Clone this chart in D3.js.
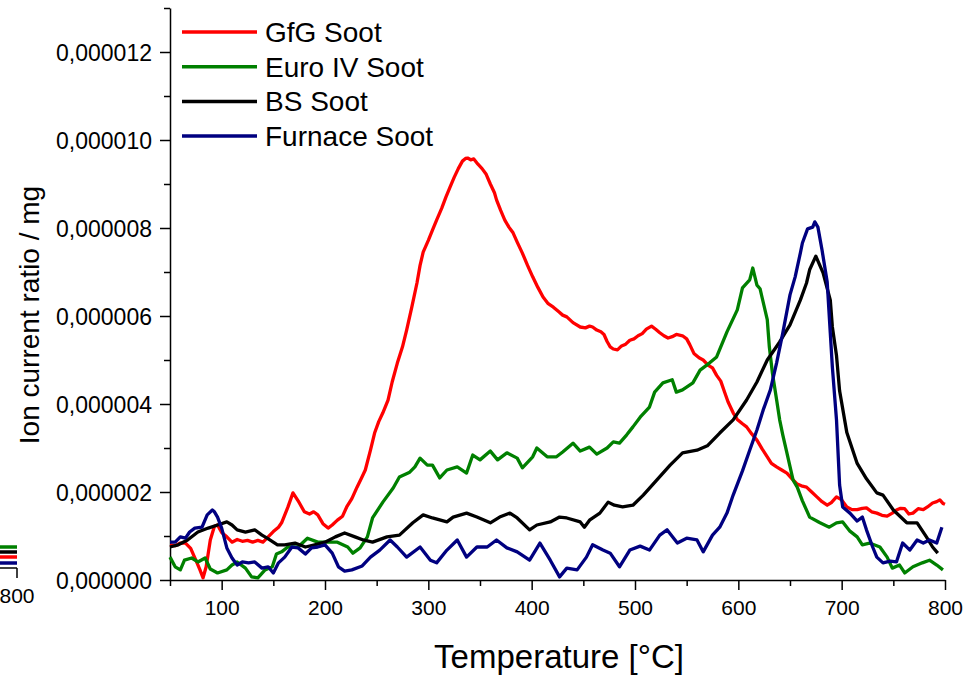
<!DOCTYPE html>
<html>
<head>
<meta charset="utf-8">
<script src="https://cdn.jsdelivr.net/npm/d3@7/dist/d3.min.js"></script>
<style>
  html, body { margin: 0; padding: 0; background: #fff; }
  svg { display: block; font-family: "Liberation Sans", Arial, sans-serif; }
</style>
</head>
<body>
<svg id="chart" width="968" height="675"></svg>
<script>
// ---- Data (values in units of 1e-6 ion current ratio / mg) ----
const seriesNames = ["GfG Soot", "Euro IV Soot", "BS Soot", "Furnace Soot"];
const seriesColors = ["#ff0000", "#008000", "#000000", "#000080"];

const gfgSoot = [[50,0.80],[55,0.78],[60,0.84],[65,0.84],[70,0.72],[75,0.45],[79,0.23],[82,0.05],[85,0.30],[89,0.91],[93,1.22],[96,1.25],[100,1.08],[105,0.98],[110,0.86],[115,0.92],[120,0.88],[125,0.90],[130,0.86],[135,0.90],[140,0.86],[145,0.98],[150,1.10],[155,1.20],[158,1.30],[164,1.65],[169,1.98],[174,1.80],[180,1.55],[185,1.50],[189,1.55],[193,1.48],[198,1.28],[203,1.18],[207,1.25],[212,1.36],[217,1.45],[221,1.66],[226,1.85],[231,2.11],[235,2.30],[239,2.50],[244,2.95],[248,3.34],[252,3.60],[256,3.80],[261,4.09],[265,4.50],[270,4.93],[275,5.30],[279,5.68],[284,6.20],[289,6.75],[292,7.15],[295,7.45],[300,7.72],[304,7.95],[308,8.18],[313,8.45],[317,8.70],[321,8.93],[325,9.15],[329,9.35],[333,9.52],[336,9.58],[338,9.59],[341,9.55],[344,9.57],[348,9.45],[352,9.35],[356,9.22],[360,9.00],[364,8.80],[366,8.64],[370,8.40],[374,8.18],[378,8.02],[382,7.89],[386,7.68],[391,7.43],[396,7.15],[401,6.89],[406,6.65],[411,6.43],[416,6.28],[421,6.20],[426,6.10],[430,6.02],[434,5.98],[440,5.85],[447,5.75],[452,5.73],[456,5.77],[459,5.75],[463,5.68],[467,5.64],[470,5.58],[473,5.42],[476,5.30],[479,5.25],[483,5.23],[487,5.32],[491,5.36],[495,5.45],[499,5.48],[503,5.55],[507,5.60],[511,5.70],[516,5.77],[520,5.70],[524,5.62],[528,5.55],[532,5.50],[536,5.53],[540,5.58],[546,5.55],[550,5.48],[553,5.35],[557,5.15],[562,5.05],[566,5.00],[571,4.88],[575,4.82],[579,4.65],[583,4.52],[587,4.25],[590,4.05],[595,3.80],[599,3.65],[604,3.55],[608,3.48],[613,3.32],[618,3.18],[623,2.98],[628,2.80],[632,2.65],[637,2.57],[642,2.50],[647,2.43],[652,2.30],[657,2.18],[661,2.14],[666,2.11],[671,2.00],[676,1.89],[681,1.78],[686,1.70],[690,1.76],[695,1.89],[700,1.82],[705,1.66],[710,1.60],[715,1.60],[720,1.63],[724,1.64],[729,1.55],[734,1.52],[739,1.47],[744,1.45],[749,1.52],[753,1.59],[757,1.63],[761,1.62],[765,1.50],[769,1.52],[774,1.62],[779,1.60],[783,1.66],[788,1.75],[792,1.78],[795,1.82],[798,1.74],[800,1.72]];

const euroIVSoot = [[50,0.52],[55,0.30],[60,0.23],[64,0.45],[71,0.50],[77,0.41],[84,0.50],[89,0.25],[96,0.16],[105,0.23],[110,0.34],[115,0.41],[123,0.27],[129,0.07],[135,0.05],[142,0.23],[149,0.30],[153,0.59],[158,0.64],[164,0.75],[174,0.75],[183,0.95],[193,0.86],[203,0.86],[212,0.86],[222,0.75],[227,0.61],[234,0.73],[241,0.98],[246,1.41],[256,1.77],[266,2.09],[272,2.34],[282,2.45],[287,2.57],[292,2.77],[299,2.61],[304,2.61],[311,2.32],[318,2.50],[328,2.57],[337,2.43],[343,2.84],[350,2.73],[360,2.93],[367,2.73],[376,2.89],[386,2.77],[391,2.55],[401,2.80],[405,3.00],[415,2.80],[424,2.80],[430,2.91],[440,3.11],[447,2.93],[456,3.02],[463,2.86],[473,3.00],[479,3.14],[485,3.11],[492,3.30],[498,3.48],[505,3.70],[514,3.93],[519,4.27],[527,4.48],[536,4.55],[540,4.27],[546,4.32],[556,4.48],[563,4.77],[572,4.93],[579,5.07],[589,5.64],[599,6.14],[604,6.64],[611,6.82],[614,7.09],[618,6.70],[621,6.62],[628,5.92],[630,5.30],[633,4.70],[637,4.10],[640,3.64],[643,3.30],[647,2.89],[653,2.27],[657,2.11],[662,1.80],[669,1.43],[679,1.30],[688,1.20],[695,1.30],[701,1.32],[708,1.11],[715,0.98],[720,0.80],[727,0.84],[737,0.75],[744,0.52],[749,0.27],[756,0.34],[761,0.16],[769,0.30],[778,0.39],[785,0.45],[792,0.34],[798,0.23]];

const bsSoot = [[50,0.75],[58,0.80],[67,0.91],[77,1.09],[87,1.18],[96,1.25],[105,1.32],[110,1.25],[115,1.14],[123,1.09],[132,1.14],[139,1.02],[144,0.95],[154,0.80],[161,0.80],[171,0.84],[181,0.75],[190,0.80],[200,0.86],[210,0.98],[219,1.07],[229,0.98],[237,0.91],[246,0.86],[260,0.98],[272,1.02],[285,1.30],[295,1.48],[304,1.41],[318,1.32],[324,1.43],[337,1.52],[347,1.43],[360,1.30],[369,1.43],[379,1.52],[386,1.41],[398,1.14],[405,1.25],[418,1.32],[427,1.43],[434,1.41],[447,1.32],[451,1.20],[456,1.36],[466,1.52],[474,1.77],[480,1.70],[488,1.66],[498,1.70],[508,1.93],[521,2.27],[534,2.61],[546,2.89],[560,2.95],[570,3.05],[582,3.34],[595,3.64],[608,4.09],[618,4.50],[628,5.00],[640,5.41],[650,5.80],[660,6.36],[666,6.75],[669,7.05],[675,7.36],[682,6.98],[689,6.36],[691,5.75],[695,5.10],[698,4.30],[705,3.35],[715,2.65],[724,2.30],[734,1.98],[740,1.93],[750,1.59],[763,1.30],[773,1.30],[782,0.98],[788,0.75],[793,0.61]];

const furnaceSoot = [[50,0.86],[55,0.86],[60,0.98],[65,0.95],[69,1.09],[74,1.18],[81,1.20],[86,1.48],[91,1.59],[93,1.55],[96,1.43],[100,1.18],[105,0.73],[110,0.50],[115,0.34],[120,0.41],[126,0.39],[132,0.41],[139,0.27],[145,0.30],[150,0.16],[155,0.39],[161,0.52],[168,0.75],[174,0.73],[181,0.59],[187,0.73],[193,0.75],[200,0.80],[207,0.61],[213,0.30],[219,0.20],[226,0.23],[236,0.32],[244,0.52],[253,0.68],[263,0.91],[270,0.75],[279,0.52],[292,0.75],[302,0.45],[308,0.39],[318,0.68],[328,0.91],[337,0.52],[347,0.75],[357,0.75],[366,0.91],[376,0.73],[386,0.64],[398,0.45],[408,0.84],[418,0.45],[427,0.07],[434,0.27],[444,0.23],[453,0.52],[459,0.80],[469,0.68],[476,0.61],[485,0.30],[495,0.68],[505,0.77],[514,0.68],[524,1.02],[531,1.14],[541,0.84],[550,0.95],[560,0.91],[566,0.64],[575,1.02],[582,1.20],[589,1.52],[595,1.93],[604,2.48],[611,2.95],[618,3.41],[624,3.86],[631,4.32],[637,4.93],[643,5.61],[650,6.48],[655,6.89],[660,7.43],[662,7.66],[667,7.98],[672,8.02],[674,8.14],[677,8.02],[681,7.50],[686,6.77],[689,5.61],[691,4.84],[695,3.64],[698,2.16],[701,1.66],[708,1.52],[715,1.34],[720,1.43],[724,1.14],[730,0.75],[734,0.52],[740,0.39],[747,0.43],[753,0.41],[759,0.84],[766,0.68],[773,0.91],[779,0.84],[785,0.91],[792,0.84],[797,1.20]];

const allSeries = [gfgSoot, euroIVSoot, bsSoot, furnaceSoot];

const xMajorTicks = [100, 200, 300, 400, 500, 600, 700, 800];
const xMinorTicks = [50, 150, 250, 350, 450, 550, 650, 750];
const yMajorTicks = [0, 2, 4, 6, 8, 10, 12];
const yMinorTicks = [1, 3, 5, 7, 9, 11, 13];
const yTickLabels = ["0,000000","0,000002","0,000004","0,000006","0,000008","0,000010","0,000012"];

// Fragment of a neighbouring chart, cut at the left edge (values at its right end)
const fragmentValues = [[1, 1.20], [2, 0.91], [0, 0.63], [3, 0.29]]; // [series index, value]
const fragmentTick = [800];

// ---- Drawing ----
const svg = d3.select("#chart");
const x = d3.scaleLinear().domain([50, 800]).range([170, 945]);
const y = d3.scaleLinear().domain([0, 13]).range([580, 8]);

const font = '"Liberation Sans", Arial, sans-serif';

// neighbouring chart fragment
const fx = d3.scaleLinear().domain([780, 800]).range([-20, 17]);
const fy = d3.scaleLinear().domain([0, 13]).range([568, 340]);
const fragLine = d3.line().x(d => fx(d[0])).y(d => fy(d[1]));
fragmentValues.forEach(([si, v]) => {
  svg.append("path")
    .attr("d", fragLine([[780, v], [800, v]]))
    .attr("fill", "none").attr("stroke", seriesColors[si]).attr("stroke-width", 3.5);
});
svg.append("line").attr("x1", fx(780)).attr("x2", fx(800)).attr("y1", fy(0)).attr("y2", fy(0))
  .attr("stroke", "#000").attr("stroke-width", 1.5);
fragmentTick.forEach(t => {
  svg.append("line").attr("x1", fx(t)).attr("x2", fx(t)).attr("y1", fy(0)).attr("y2", fy(0) + 10)
    .attr("stroke", "#000").attr("stroke-width", 1.5);
  svg.append("text").attr("x", fx(t)).attr("y", 603).attr("text-anchor", "middle")
    .attr("font-size", 21).attr("font-family", font).text(String(t));
});

// axes
const gx = svg.append("g").attr("transform", "translate(0,580)");
gx.call(d3.axisBottom(x).tickValues(xMajorTicks).tickSize(10).tickSizeOuter(0).tickFormat(d3.format("d")));
const gxm = svg.append("g").attr("transform", "translate(0,580)");
gxm.call(d3.axisBottom(x).tickValues(xMinorTicks).tickSize(6).tickSizeOuter(0).tickFormat(""));
gxm.select(".domain").remove();
gx.selectAll("text").attr("font-size", 21).attr("font-family", font).attr("fill", "#000").attr("dy", null).attr("y", 35);

const gy = svg.append("g").attr("transform", "translate(170,0)");
gy.call(d3.axisLeft(y).tickValues(yMajorTicks).tickSize(10).tickSizeOuter(0)
  .tickFormat((d, i) => yTickLabels[i]));
const gym = svg.append("g").attr("transform", "translate(170,0)");
gym.call(d3.axisLeft(y).tickValues(yMinorTicks).tickSize(6).tickSizeOuter(0).tickFormat(""));
gym.select(".domain").remove();
gy.selectAll("text").attr("font-size", 23).attr("font-family", font).attr("fill", "#000").attr("x", -18).attr("dy", "0.36em");

[gx, gxm, gy, gym].forEach(g => {
  g.selectAll("line").attr("stroke", "#000").attr("stroke-width", 1.5);
  g.selectAll(".domain").attr("stroke", "#000").attr("stroke-width", 1.5);
});

// axis titles
svg.append("text").attr("x", 559).attr("y", 668).attr("text-anchor", "middle")
  .attr("font-size", 33).attr("font-family", font).text("Temperature [°C]");
svg.append("text").attr("transform", "translate(39,315) rotate(-90)").attr("text-anchor", "middle")
  .attr("font-size", 28).attr("font-family", font).text("Ion current ratio / mg");

// lines
const line = d3.line().x(d => x(d[0])).y(d => y(d[1]));
allSeries.forEach((s, i) => {
  svg.append("path").datum(s).attr("d", line)
    .attr("fill", "none").attr("stroke", seriesColors[i])
    .attr("stroke-width", 3.3).attr("stroke-linejoin", "round");
});

// legend
const legend = svg.append("g");
seriesNames.forEach((name, i) => {
  const ly = 32 + i * 34.7;
  legend.append("line").attr("x1", 182).attr("x2", 257).attr("y1", ly).attr("y2", ly)
    .attr("stroke", seriesColors[i]).attr("stroke-width", 3.5);
  legend.append("text").attr("x", 265).attr("y", ly + 10)
    .attr("font-size", 28).attr("font-family", font).text(name);
});
</script>
</body>
</html>
